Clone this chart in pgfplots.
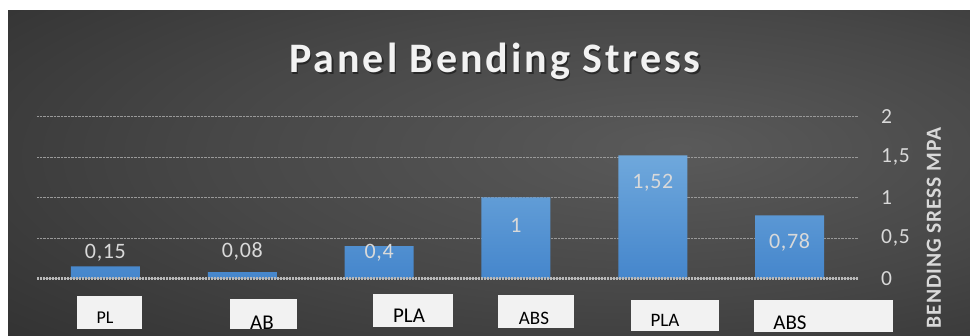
\documentclass[border=0pt]{standalone}
\usepackage{fontspec}
\setmainfont{Carlito}
\newfontfamily\titlefont[LetterSpace=7]{Carlito}
\newfontfamily\ylabfont[LetterSpace=4]{Carlito}
\newfontfamily\labfont[LetterSpace=3]{Carlito}
\usepackage{pgfplots}
\pgfplotsset{compat=1.18}
\definecolor{tickgray}{HTML}{D9D9D9}
\definecolor{titlecol}{HTML}{F2F2F2}
\definecolor{barTop}{HTML}{6FA8DC}
\definecolor{barBot}{HTML}{4586CC}
\definecolor{boxfill}{HTML}{F2F2F2}
\definecolor{bgA}{HTML}{5A5A5A}
\definecolor{bgB}{HTML}{474747}
\definecolor{bgC}{HTML}{2A2A2A}
\pgfdeclareradialshading{bgshade}{\pgfpoint{10bp}{4bp}}{color(0bp)=(bgA); color(22bp)=(bgB); color(50bp)=(bgC); color(100bp)=(bgC)}
\begin{document}
\begin{tikzpicture}[x=1pt,y=1pt]
\useasboundingbox (0,0) rectangle (970,336);
\fill[white] (0,0) rectangle (970,336);
\shade[shading=bgshade] (8,0) rectangle (970,325);
% title
\node[anchor=base, text=black, opacity=0.45, font=\titlefont\bfseries\fontsize{42}{42}\selectfont] at (496.5,261.8) {Panel Bending Stress};
\node[anchor=base, text=titlecol, font=\titlefont\bfseries\fontsize{42}{42}\selectfont] at (495,263.3) {Panel Bending Stress};
\begin{axis}[
  at={(37pt,57.5pt)}, anchor=south west,
  scale only axis, width=821pt, height=162pt,
  xmin=-0.5, xmax=5.5, ymin=0, ymax=2,
  ybar, bar width=69pt,
  axis line style={draw=none},
  xtick=\empty,
  ytick={0,0.5,1,1.5,2},
  yticklabel pos=right,
  tick style={draw=none},
  ymajorgrids,
  grid style={densely dotted, color=gray!80, line width=0.7pt},
  yticklabel style={font=\labfont\fontsize{21.5}{21.5}\selectfont, text=tickgray, anchor=west, inner sep=0pt, xshift=23pt},
  /pgf/number format/use comma,
  /pgf/number format/assume math mode=true,
  clip=false,
]
\addplot[draw=none, top color=barTop, bottom color=barBot] coordinates {(0,0.15) (1,0.08) (2,0.4) (3,1) (4,1.52) (5,0.78)};
\draw[color=gray!55, line width=2.6pt, dash pattern=on 2pt off 1pt] (axis cs:-0.5,0) -- (axis cs:5.5,0);
\begin{scope}[every node/.style={text=tickgray, font=\labfont\fontsize{22}{22}\selectfont, inner sep=0pt}]
\node at (axis cs:0,0.32) {0,15};
\node at (axis cs:1,0.33) {0,08};
\node at (axis cs:2,0.32) {0,4};
\node at (axis cs:3,0.66) {1};
\node at (axis cs:4,1.18) {1,52};
\node at (axis cs:5,0.45) {0,78};
\end{scope}
\end{axis}
% y axis title
\node[rotate=90, text=tickgray, inner sep=0pt, font=\ylabfont\bfseries\fontsize{21.5}{21.5}\selectfont] at (934,108) {BENDING SRESS MPA};
% category boxes
\fill[boxfill] (77,7) rectangle (142,40);
\node[anchor=base, font=\fontsize{18}{18}\selectfont] at (105,12) {PL};
\begin{scope}
\clip (230,7) rectangle (297,37);
\fill[boxfill] (230,7) rectangle (297,37);
\node[anchor=base, font=\fontsize{21}{21}\selectfont] at (262,6) {AB};
\end{scope}
\fill[boxfill] (373,9) rectangle (453,42);
\node[anchor=base, font=\fontsize{21}{21}\selectfont] at (409,13) {PLA};
\fill[boxfill] (498,8) rectangle (574,41);
\node[anchor=base, font=\fontsize{19}{19}\selectfont] at (534,11) {ABS};
\fill[boxfill] (631,5) rectangle (719,36);
\node[anchor=base, font=\fontsize{19}{19}\selectfont] at (665,9) {PLA};
\fill[boxfill] (754,4) rectangle (893,36);
\node[anchor=base, font=\fontsize{21}{21}\selectfont] at (790,6) {ABS};
\end{tikzpicture}
\end{document}
